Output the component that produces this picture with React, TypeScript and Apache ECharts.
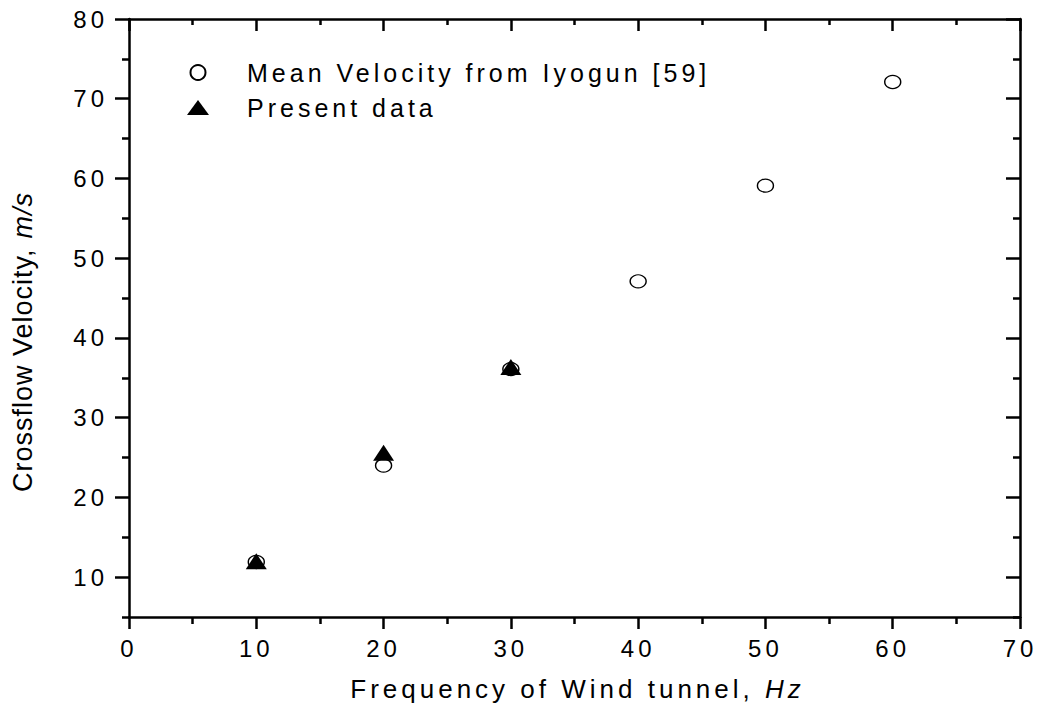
import React, { useEffect, useRef } from 'react';
import * as echarts from 'echarts';

const frequency = [10, 20, 30, 40, 50, 60];
const iyogunVelocity = [11.9, 24.0, 36.1, 47.1, 59.1, 72.1];
const presentFrequency = [10, 20, 30];
const presentVelocity = [12.0, 25.6, 36.35];
const yMajorTicks = [10, 20, 30, 40, 50, 60, 70, 80];
const yMinorTicks = [5, 15, 25, 35, 45, 55, 65, 75];
const seriesNames = ['Mean Velocity from Iyogun [59]', 'Present data'];
const xTitle = ['Frequency of Wind tunnel, ', 'Hz'];
const yTitle = ['Crossflow Velocity, ', 'm/s'];

const FONT = "'Liberation Sans', Arial, sans-serif";
const YFONT = "yaxisname, 'Liberation Sans', Arial, sans-serif";

const css = `
body { margin: 0; }
#root svg text { letter-spacing: 4px; }
#root svg text[style*="yaxisname"] { letter-spacing: 1px; }
`;

export default function App() {
  const ref = useRef<HTMLDivElement>(null);
  useEffect(() => {
    const chart = echarts.init(ref.current!, null, { renderer: 'svg' });
    const lineStyle = { color: '#000', width: 2.5 };
    const axisLine = { show: true, onZero: false, lineStyle };
    const label = { color: '#000', fontSize: 24, fontFamily: FONT };
    chart.setOption({
      animation: false,
      backgroundColor: '#fff',
      grid: { left: 129, right: 22, top: 19, bottom: 100, containLabel: false },
      xAxis: [
        {
          type: 'value', position: 'bottom', min: 0, max: 70, interval: 10,
          axisLine,
          axisTick: { show: true, inside: false, length: 12, lineStyle },
          minorTick: { show: true, splitNumber: 2, length: 7, lineStyle },
          axisLabel: { ...label, margin: 19 },
          splitLine: { show: false }, minorSplitLine: { show: false },
        },
        {
          type: 'value', position: 'top', min: 0, max: 70, interval: 10,
          axisLine,
          axisTick: { show: true, inside: true, length: 12, lineStyle },
          minorTick: { show: true, splitNumber: 2, length: 6, lineStyle },
          axisLabel: { show: false },
          splitLine: { show: false }, minorSplitLine: { show: false },
        },
      ],
      yAxis: [
        {
          type: 'value', position: 'left', min: 5, max: 80,
          axisLine,
          axisTick: { show: true, inside: false, length: 14, lineStyle, customValues: yMajorTicks },
          axisLabel: { ...label, margin: 21, customValues: yMajorTicks },
          splitLine: { show: false },
        },
        {
          type: 'value', position: 'left', min: 5, max: 80,
          axisLine: { show: false, onZero: false },
          axisTick: { show: true, inside: false, length: 7, lineStyle, customValues: yMinorTicks },
          axisLabel: { show: false },
          splitLine: { show: false },
        },
        {
          type: 'value', position: 'right', min: 5, max: 80,
          axisLine,
          axisTick: { show: true, inside: true, length: 14, lineStyle, customValues: yMajorTicks },
          axisLabel: { show: false },
          splitLine: { show: false },
        },
        {
          type: 'value', position: 'right', min: 5, max: 80,
          axisLine: { show: false, onZero: false },
          axisTick: { show: true, inside: true, length: 7, lineStyle, customValues: yMinorTicks },
          axisLabel: { show: false },
          splitLine: { show: false },
        },
      ],
      legend: {
        orient: 'vertical', left: 182, top: 55,
        itemWidth: 22, itemHeight: 15, itemGap: 10,
        selectedMode: false,
        textStyle: { color: '#000', fontSize: 25, fontFamily: FONT, lineHeight: 25, padding: [0, 0, 0, 33] },
        data: [{ name: seriesNames[0] }, { name: seriesNames[1] }],
      },
      series: [
        {
          name: seriesNames[0], type: 'scatter', xAxisIndex: 0, yAxisIndex: 0,
          symbol: 'circle', symbolSize: [16, 13],
          itemStyle: { color: '#fff', borderColor: '#000', borderWidth: 1.3, opacity: 1 },
          emphasis: { disabled: true },
          data: frequency.map((f, i) => [f, iyogunVelocity[i]]),
        },
        {
          name: seriesNames[1], type: 'scatter', xAxisIndex: 0, yAxisIndex: 0,
          symbol: 'triangle', symbolSize: [21, 16],
          itemStyle: { color: '#000', opacity: 1 },
          emphasis: { disabled: true },
          data: presentFrequency.map((f, i) => [f, presentVelocity[i]]),
        },
      ],
      graphic: [
        {
          type: 'text', x: 765, y: 689,
          style: { text: xTitle[0], font: `26px ${FONT}`, textAlign: 'right', verticalAlign: 'middle', fill: '#000' },
        },
        {
          type: 'text', x: 765, y: 689,
          style: { text: xTitle[1], font: `italic 26px ${FONT}`, textAlign: 'left', verticalAlign: 'middle', fill: '#000' },
        },
        {
          type: 'text', x: 23, y: 492, rotation: Math.PI / 2,
          style: { text: yTitle[0], font: `27px ${YFONT}`, textAlign: 'left', verticalAlign: 'middle', fill: '#000' },
        },
        {
          type: 'text', x: 23, y: 192, rotation: Math.PI / 2,
          style: { text: yTitle[1], font: `italic 27px ${YFONT}`, textAlign: 'right', verticalAlign: 'middle', fill: '#000' },
        },
      ],
    });
    return () => chart.dispose();
  }, []);
  return (
    <>
      <style>{css}</style>
      <div ref={ref} style={{ width: 1042, height: 717 }} />
    </>
  );
}
